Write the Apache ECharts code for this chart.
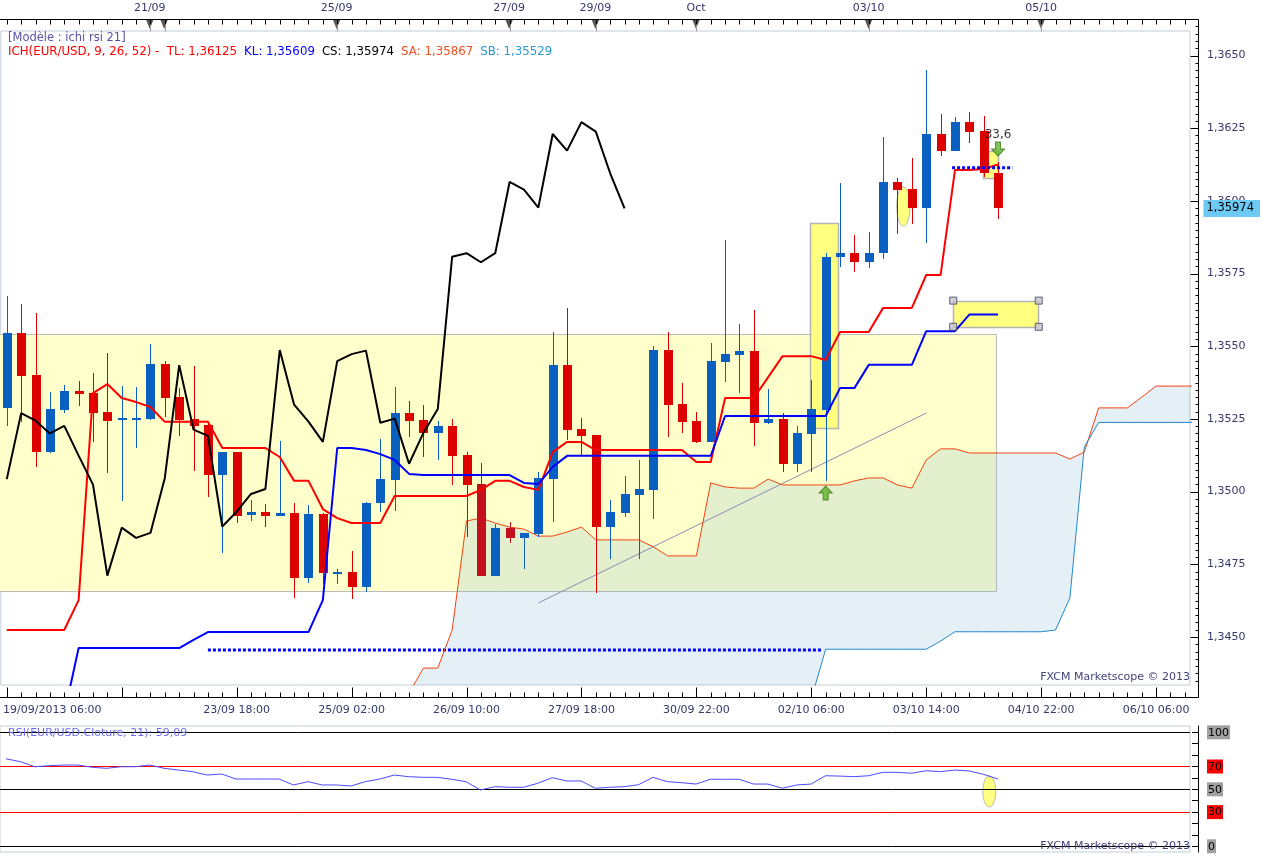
<!DOCTYPE html>
<html><head><meta charset="utf-8">
<script src="https://cdn.jsdelivr.net/npm/echarts@6/dist/echarts.min.js"></script>
<style>html,body{margin:0;padding:0;background:#fff}#c{width:1263px;height:854px}</style>
</head><body><div id="c"></div>
<script>
// ---------- DATA ----------
const opens  = [1.35286,1.35547,1.35401,1.35137,1.35282,1.35346,1.35338,1.35273,1.35245,1.35251,
                1.35251,1.35439,1.35327,1.35249,1.35229,1.35058,1.35136,1.34918,1.34929,1.34917,
                1.34925,1.34702,1.34923,1.34721,1.34723,1.34673,1.34960,1.35040,1.35270,1.35246,
                1.35200,1.35226,1.35126,1.35026,1.34711,1.34876,1.34841,1.34854,1.35044,1.35435,
                1.35215,1.35195,1.34880,1.34928,1.34990,1.35006,1.35487,1.35301,1.35243,1.35172,
                1.35447,1.35471,1.35485,1.35237,1.35251,1.35096,1.35199,1.35282,1.35806,1.35820,
                1.35789,1.35820,1.36065,1.36040,1.35977,1.36230,1.36173,1.36271,1.36240,1.36095];
const closes = [1.35547,1.35399,1.35137,1.35284,1.35346,1.35337,1.35271,1.35244,1.35252,1.35254,
                1.35439,1.35323,1.35246,1.35227,1.35058,1.35136,1.34917,1.34929,1.34917,1.34926,
                1.34702,1.34923,1.34721,1.34725,1.34673,1.34961,1.35043,1.35270,1.35244,1.35200,
                1.35226,1.35124,1.35024,1.34711,1.34876,1.34841,1.34858,1.35047,1.35435,1.35213,
                1.35192,1.34880,1.34931,1.34992,1.35009,1.35487,1.35299,1.35241,1.35171,1.35449,
                1.35473,1.35485,1.35237,1.35251,1.35096,1.35202,1.35284,1.35808,1.35820,1.35789,
                1.35820,1.36065,1.36039,1.35977,1.36230,1.36173,1.36271,1.36238,1.36095,1.35974];
const lows   = [1.35227,1.35241,1.35086,1.35134,1.35271,1.35294,1.35172,1.35065,1.34969,1.35151,
                1.35248,1.35258,1.35191,1.35072,1.34983,1.34788,1.34893,1.34900,1.34879,1.34917,
                1.34635,1.34687,1.34684,1.34684,1.34630,1.34656,1.34931,1.34934,1.35189,1.35120,
                1.35109,1.35024,1.34845,1.34711,1.34711,1.34824,1.34733,1.34845,1.34897,1.35177,
                1.35124,1.34650,1.34767,1.34914,1.34767,1.34907,1.35187,1.35200,1.35168,1.35172,
                1.35378,1.35340,1.35158,1.35232,1.35066,1.35066,1.35066,1.35038,1.35771,1.35754,
                1.35768,1.35799,1.35885,1.35919,1.35856,1.36156,1.36173,1.36198,1.36083,1.35939];
const highs  = [1.35673,1.35645,1.35615,1.35341,1.35367,1.35380,1.35407,1.35476,1.35363,1.35361,
                1.35508,1.35450,1.35355,1.35432,1.35231,1.35137,1.35136,1.34971,1.34957,1.35174,
                1.34960,1.34954,1.34925,1.34734,1.34796,1.34964,1.35181,1.35359,1.35312,1.35298,
                1.35244,1.35250,1.35135,1.35099,1.34887,1.34894,1.34858,1.35069,1.35550,1.35631,
                1.35254,1.35195,1.34971,1.35054,1.35109,1.35502,1.35550,1.35373,1.35274,1.35512,
                1.35865,1.35578,1.35625,1.35353,1.35269,1.35227,1.35385,1.35822,1.36060,1.35883,
                1.35892,1.36219,1.36079,1.36146,1.36450,1.36299,1.36287,1.36306,1.36292,1.36135];
const darkCandles = [33, 35];
const tenkan = [1.34524,1.34524,1.34524,1.34524,1.34524,1.34627,1.35339,1.35370,1.35322,1.35308,
                1.35291,1.35240,1.35240,1.35240,1.35240,1.35150,1.35150,1.35150,1.35150,1.35119,
                1.35037,1.35037,1.34940,1.34909,1.34892,1.34892,1.34892,1.34985,1.34985,1.34985,
                1.34985,1.34985,1.34985,1.35006,1.35037,1.35037,1.35016,1.35006,1.35136,1.35171,
                1.35171,1.35143,1.35143,1.35143,1.35143,1.35143,1.35143,1.35143,1.35102,1.35102,
                1.35322,1.35322,1.35322,1.35394,1.35466,1.35466,1.35466,1.35453,1.35549,1.35549,
                1.35549,1.35632,1.35632,1.35632,1.35745,1.35745,1.36106,1.36106,1.36110,1.36125];
const kijun  = [1.34235,1.34235,1.34235,1.34235,1.34235,1.34462,1.34462,1.34462,1.34462,1.34462,
                1.34462,1.34462,1.34462,1.34490,1.34517,1.34517,1.34517,1.34517,1.34517,1.34517,
                1.34517,1.34517,1.34627,1.35150,1.35150,1.35143,1.35129,1.35109,1.35061,1.35057,
                1.35057,1.35057,1.35057,1.35057,1.35057,1.35057,1.35030,1.35026,1.35085,1.35123,
                1.35123,1.35123,1.35123,1.35123,1.35123,1.35123,1.35123,1.35123,1.35123,1.35123,
                1.35260,1.35260,1.35260,1.35260,1.35260,1.35260,1.35260,1.35260,1.35356,1.35356,
                1.35436,1.35436,1.35436,1.35436,1.35552,1.35552,1.35552,1.35609,1.35609,1.35609];
const chikouShift = 26;
const cloudStart = 28;   // first index of the (forward shifted) cloud values
const senkouA = [1.34307,1.34393,1.34393,1.34524,1.34899,1.34909,1.34892,1.34878,1.34871,1.34847,
                 1.34847,1.34861,1.34878,1.34834,1.34834,1.34834,1.34834,1.34810,1.34779,1.34779,
                 1.34779,1.35030,1.35016,1.35012,1.35012,1.35043,1.35023,1.35023,1.35023,1.35023,
                 1.35023,1.35037,1.35047,1.35047,1.35023,1.35012,1.35109,1.35147,1.35147,1.35133,
                 1.35133,1.35133,1.35133,1.35133,1.35133,1.35133,1.35112,1.35136,1.35288,1.35288,
                 1.35288,1.35325,1.35363,1.35363,1.35363,1.35363];
const senkouB = [1.34215,1.34215,1.34215,1.34215,1.34215,1.34215,1.34215,1.34215,1.34215,1.34215,
                 1.34215,1.34215,1.34215,1.34215,1.34215,1.34215,1.34215,1.34215,1.34215,1.34215,
                 1.34215,1.34215,1.34215,1.34215,1.34215,1.34215,1.34215,1.34215,1.34287,1.34458,
                 1.34458,1.34458,1.34458,1.34458,1.34458,1.34458,1.34458,1.34486,1.34518,1.34518,
                 1.34518,1.34518,1.34518,1.34518,1.34518,1.34524,1.34634,1.35153,1.35238,1.35238,
                 1.35238,1.35238,1.35238,1.35238,1.35238,1.35238];
const rsi = [76.8,74.2,69.8,70.7,71.3,71.3,69.3,68.4,69.8,69.8,
             71.3,68.4,66.9,65.4,62.5,63.4,59.0,59.0,59.0,59.0,
             53.8,56.7,53.8,53.8,52.9,56.7,59.0,62.5,61.1,60.5,
             60.5,58.8,56.7,49.4,52.3,51.8,51.8,55.3,60.2,57.3,
             57.3,50.9,51.8,52.3,54.0,60.5,56.7,55.8,54.6,58.8,
             58.8,58.8,54.6,54.6,50.9,53.8,54.6,61.9,61.6,61.1,
             61.9,64.9,64.9,64.1,66.3,65.5,66.9,66.1,63.1,59.09];
const rsiLevels = [100,70,50,30,0];
const priceTicks = [1.3450,1.3475,1.3500,1.3525,1.3550,1.3575,1.3600,1.3625,1.3650];
const bottomLabelIdx = [0,16,24,32,40,48,56,64,72,80];
const bottomLabels = ['19/09/2013 06:00','23/09 18:00','25/09 02:00','26/09 10:00','27/09 18:00',
                      '30/09 22:00','02/10 06:00','03/10 14:00','04/10 22:00','06/10 06:00'];
const topMarkIdx = [10,11,23,35,41,48,60,72];
const topLabelIdx = [10,23,35,41,48,60,72];
const topLabels = ['21/09','25/09','27/09','29/09','Oct','03/10','05/10'];
const legendValues = {TL:'1,36125', KL:'1,35609', CS:'1,35974', SA:'1,35867', SB:'1,35529'};
// annotations (data coordinates: candle index, price)
const zoneBox   = [-1, 1.35542, 68.87, 1.34658];
const signalBox = [55.92, 1.35923, 57.87, 1.35218];
const klBox     = [65.88, 1.35657, 71.83, 1.35567];
const smallBox  = [67.92, 1.36172, 68.96, 1.36078];
const mainEllipse = [62.41, 1.35981, 0.465, 0.000678];
const rsiEllipse  = [68.4, 48.1, 0.45, 13.6];
const trendLine = [[37, 1.34617], [64, 1.35270]];
const kijunDots1 = [[14, 1.34455], [56.8, 1.34455]];
const kijunDots2 = [[65.8, 1.36114], [70.0, 1.36114]];
const upArrow = [57, 1.34995];
const downArrow = [69, 1.36178];
const downArrowText = '33,6';

// ---------- LAYOUT ----------
const X_MIN = -0.41667, X_MAX = 82.3611;
const Y_MIN = 1.343349, Y_MAX = 1.365843;
const FONT = 'DejaVu Sans';
const AXC = '#34386a';
const BLUE = '#0a60c0', RED = '#dd0000', DARKRED = '#c4101c';
const MAIN_RECT = {left: -2, top: 31, width: 1192, height: 654};
const TOP_RECT = {left: -2, top: 19, width: 1192, height: 12};

const intTicks = []; for (let i = 0; i <= 82; i++) intTicks.push(i);
const minorY = []; for (let k = 0; k <= 90; k++) minorY.push(+(1.3435 + k * 0.00025).toFixed(5));
const rsiTicks = []; for (let v = 0; v <= 100; v += 10) rsiTicks.push(v);

const fmtP = (v, d) => v.toFixed(d).replace('.', ',');
const candleData = opens.map((o, i) => [i, o, closes[i], lows[i], highs[i]]);
const csData = closes.slice(chikouShift).map((c, j) => [j, c]);
const cloudIdx = senkouA.map((_, k) => cloudStart + k);

function renderCandle(params, api) {
  const i = api.value(0), o = api.value(1), c = api.value(2), l = api.value(3), h = api.value(4);
  const pO = api.coord([i, o]), pC = api.coord([i, c]), pL = api.coord([i, l]), pH = api.coord([i, h]);
  const x = Math.round(pO[0]);
  let top = Math.round(Math.min(pO[1], pC[1])), bot = Math.round(Math.max(pO[1], pC[1]));
  if (bot - top < 2) bot = top + 2;
  const col = c >= o ? BLUE : (darkCandles.indexOf(i) >= 0 ? DARKRED : RED);
  return {type: 'group', children: [
    {type: 'line', shape: {x1: x + 0.5, y1: Math.round(pH[1]), x2: x + 0.5, y2: Math.round(pL[1])}, style: {stroke: col, lineWidth: 1}},
    {type: 'rect', shape: {x: x - 4, y: top, width: 9, height: bot - top}, style: {fill: col}}
  ]};
}
function boxRenderer(fill, stroke, lw) {
  return function (params, api) {
    const p1 = api.coord([api.value(0), api.value(1)]), p2 = api.coord([api.value(2), api.value(3)]);
    const x = Math.round(Math.min(p1[0], p2[0])), y = Math.round(Math.min(p1[1], p2[1]));
    return {type: 'rect', shape: {x: x + 0.5, y: y + 0.5, width: Math.round(Math.abs(p2[0] - p1[0])), height: Math.round(Math.abs(p2[1] - p1[1]))},
      style: {fill: fill, stroke: stroke, lineWidth: lw}};
  };
}
function renderEllipse(params, api) {
  const cx = api.value(0), cy = api.value(1), rx = api.value(2), ry = api.value(3);
  const pts = [];
  for (let k = 0; k < 60; k++) { const a = k / 60 * Math.PI * 2; pts.push(api.coord([cx + rx * Math.cos(a), cy + ry * Math.sin(a)])); }
  return {type: 'polygon', shape: {points: pts}, style: {fill: '#ffff80', stroke: '#b8b8b8', lineWidth: 1}};
}
function renderCloud(params, api) {
  if (params.dataIndex !== 0) return null;
  const upper = cloudIdx.map((x, k) => api.coord([x, senkouA[k]]));
  const lower = cloudIdx.map((x, k) => api.coord([x, senkouB[k]])).reverse();
  return {type: 'polygon', shape: {points: upper.concat(lower)}, style: {fill: 'rgba(120,180,210,0.2)'}};
}
const boxCorners = [[klBox[0], klBox[1]], [klBox[2], klBox[1]], [klBox[0], klBox[3]], [klBox[2], klBox[3]]];
const arrowPath = 'path://M6.5,0 L13,7 L9,7 L9,14 L4,14 L4,7 L0,7 Z';

const baseX = {type: 'value', min: X_MIN, max: X_MAX, splitLine: {show: false}, axisLine: {show: false, onZero: false}, axisTick: {show: false}};
const baseYMain = {type: 'value', min: Y_MIN, max: Y_MAX, position: 'right', offset: 8, splitLine: {show: false}, axisLine: {show: false, onZero: false}, axisTick: {show: false}};
const ttl = (extra) => Object.assign({padding: 0}, extra);
const LEG = 11.8;

const option = {
  animation: false,
  backgroundColor: '#ffffff',
  textStyle: {fontFamily: FONT},
  title: [
    ttl({left: 8, top: 31, text: '{p|[Modèle : ichi rsi 21]}\n{r|ICH(EUR/USD, 9, 26, 52) -  TL: ' + legendValues.TL + '}  {b|KL: ' + legendValues.KL + '}  {k|CS: ' + legendValues.CS + '}  {o|SA: ' + legendValues.SA + '}  {c|SB: ' + legendValues.SB + '}',
     textStyle: {fontFamily: FONT, fontSize: 11, fontWeight: 'normal', lineHeight: 14,
       rich: {p: {color: '#5a50a8', fontSize: 11.5, lineHeight: 14}, r: {color: '#ff0000', fontSize: LEG, lineHeight: 14}, b: {color: '#0000ff', fontSize: LEG, lineHeight: 14},
              k: {color: '#000000', fontSize: LEG, lineHeight: 14}, o: {color: '#f05020', fontSize: LEG, lineHeight: 14}, c: {color: '#2a9ad0', fontSize: LEG, lineHeight: 14}}}}),
    ttl({left: 8, top: 728, text: 'RSI(EUR/USD.Cloture, 21): ' + fmtP(rsi[rsi.length - 1], 2), textStyle: {fontFamily: FONT, fontSize: 11, fontWeight: 'normal', color: '#6a6aee'}}),
    ttl({right: 73, top: 672, text: 'FXCM Marketscope © 2013', textStyle: {fontFamily: FONT, fontSize: 11, fontWeight: 'normal', color: '#44447a'}}),
    ttl({right: 73, top: 841, text: 'FXCM Marketscope © 2013', textStyle: {fontFamily: FONT, fontSize: 11, fontWeight: 'normal', color: '#44447a'}})
  ],
  grid: [
    Object.assign({show: true, borderColor: '#c3cdd8', borderWidth: 1, backgroundColor: 'transparent'}, MAIN_RECT),   // 0 main
    {left: -2, top: 726, width: 1192, height: 126, show: true, borderColor: '#c3cdd8', borderWidth: 1, backgroundColor: 'transparent'}, // 1 rsi
    Object.assign({show: false}, TOP_RECT),   // 2 top strip labels / marks
    Object.assign({show: false}, MAIN_RECT)   // 3 current price label
  ],
  xAxis: [
    Object.assign({}, baseX, {gridIndex: 0, position: 'bottom', offset: 12,
      axisLabel: {show: true, customValues: bottomLabelIdx, color: AXC, fontFamily: FONT, fontSize: 11, margin: 8,
        formatter: v => { const k = bottomLabelIdx.indexOf(Math.round(v)); if (k < 0) return ''; return k === 0 ? '{f|' + bottomLabels[0] + '}' : bottomLabels[k]; },
        rich: {f: {padding: [0, 0, 0, 91], color: AXC, fontFamily: FONT, fontSize: 11}}}}),
    Object.assign({}, baseX, {gridIndex: 1, show: false}),
    Object.assign({}, baseX, {gridIndex: 2, position: 'top',
      axisLabel: {show: true, customValues: topLabelIdx, color: AXC, fontFamily: FONT, fontSize: 11, margin: 5,
        formatter: v => { const k = topLabelIdx.indexOf(Math.round(v)); return k < 0 ? '' : topLabels[k]; }}}),
    Object.assign({}, baseX, {gridIndex: 3, show: false})
  ],
  yAxis: [
    Object.assign({}, baseYMain, {gridIndex: 0,
      axisLabel: {show: true, customValues: priceTicks, color: AXC, fontFamily: FONT, fontSize: 11, margin: 9, formatter: v => fmtP(v, 4)}}),
    {type: 'value', gridIndex: 1, min: -5, max: 105.53, position: 'right', offset: 8, splitLine: {show: false},
      axisLine: {show: true, onZero: false, lineStyle: {color: '#000'}},
      axisTick: {show: true, inside: true, length: 6, customValues: rsiTicks, lineStyle: {color: '#000'}},
      axisLabel: {show: true, customValues: rsiLevels, margin: 9, fontFamily: FONT, fontSize: 11,
        formatter: v => { const r = Math.round(v); return (r === 70 || r === 30) ? '{r|' + r + '}' : '{g|' + r + '}'; },
        rich: {g: {backgroundColor: '#a0a0a0', color: '#000', padding: [2, 1, 1, 1], fontFamily: FONT, fontSize: 11},
               r: {backgroundColor: '#ff0000', color: '#000', padding: [2, 1, 1, 1], fontFamily: FONT, fontSize: 11}}}},
    {type: 'value', gridIndex: 2, min: 0, max: 1, show: false, splitLine: {show: false}},
    Object.assign({}, baseYMain, {gridIndex: 3, z: 10,
      axisLabel: {show: true, customValues: [closes[closes.length - 1]], color: '#000', backgroundColor: '#6ccaf5', padding: [3, 6, 2, 3],
        fontFamily: FONT, fontSize: 11.5, margin: 8, formatter: v => fmtP(v, 5)}})
  ],
  series: [
    {type: 'custom', name: 'zone', xAxisIndex: 0, yAxisIndex: 0, z: 1, clip: true, silent: true,
      renderItem: boxRenderer('#ffffcc', '#bcbcbc', 1), encode: {x: [0, 2], y: [1, 3]}, data: [zoneBox]},
    {type: 'custom', name: 'cloud', xAxisIndex: 0, yAxisIndex: 0, z: 2, clip: true, silent: true,
      renderItem: renderCloud, encode: {x: 0, y: 1}, data: [[cloudIdx[0], senkouA[0]]]},
    {type: 'custom', name: 'boxes', xAxisIndex: 0, yAxisIndex: 0, z: 3, silent: true,
      renderItem: boxRenderer('#ffff80', '#b4b4b4', 1.5), encode: {x: [0, 2], y: [1, 3]}, data: [signalBox, klBox, smallBox]},
    {type: 'custom', name: 'ellipse', xAxisIndex: 0, yAxisIndex: 0, z: 3, silent: true,
      renderItem: renderEllipse, encode: {x: 0, y: 1}, data: [mainEllipse]},
    {type: 'line', name: 'trend', xAxisIndex: 0, yAxisIndex: 0, z: 4, symbol: 'none', lineStyle: {color: '#8c8cb4', width: 1}, data: trendLine},
    {type: 'line', name: 'dots1', xAxisIndex: 0, yAxisIndex: 0, z: 4, symbol: 'none', lineStyle: {color: '#0000ff', width: 3, type: [3, 2]}, data: kijunDots1},
    {type: 'line', name: 'SA', xAxisIndex: 0, yAxisIndex: 0, z: 4, symbol: 'none', lineStyle: {color: '#ee4411', width: 1}, data: cloudIdx.map((x, k) => [x, senkouA[k]])},
    {type: 'line', name: 'SB', xAxisIndex: 0, yAxisIndex: 0, z: 4, symbol: 'none', lineStyle: {color: '#2288cc', width: 1}, data: cloudIdx.map((x, k) => [x, senkouB[k]])},
    {type: 'custom', name: 'candles', xAxisIndex: 0, yAxisIndex: 0, z: 5, renderItem: renderCandle, encode: {x: 0, y: [1, 2, 3, 4]}, data: candleData},
    {type: 'line', name: 'TL', xAxisIndex: 0, yAxisIndex: 0, z: 6, symbol: 'none', lineStyle: {color: '#ff0000', width: 2}, data: tenkan.map((v, i) => [i, v])},
    {type: 'line', name: 'KL', xAxisIndex: 0, yAxisIndex: 0, z: 6, symbol: 'none', lineStyle: {color: '#0000ff', width: 2}, data: kijun.map((v, i) => [i, v])},
    {type: 'line', name: 'CS', xAxisIndex: 0, yAxisIndex: 0, z: 6, symbol: 'none', lineStyle: {color: '#000000', width: 2}, data: csData},
    {type: 'line', name: 'dots2', xAxisIndex: 0, yAxisIndex: 0, z: 6, symbol: 'none', lineStyle: {color: '#0000ff', width: 3, type: [3, 2]}, data: kijunDots2},
    {type: 'scatter', name: 'handles', xAxisIndex: 0, yAxisIndex: 0, z: 7, symbol: 'rect', symbolSize: 7,
      itemStyle: {color: '#c4c4cc', borderColor: '#3c3c5c', borderWidth: 1}, data: boxCorners},
    {type: 'scatter', name: 'up', xAxisIndex: 0, yAxisIndex: 0, z: 7, symbol: arrowPath, symbolSize: [13, 14],
      itemStyle: {color: '#62b22c', borderColor: '#3a7a12', borderWidth: 1}, data: [upArrow]},
    {type: 'scatter', name: 'down', xAxisIndex: 0, yAxisIndex: 0, z: 7, symbol: arrowPath, symbolSize: [13, 14], symbolRotate: 180,
      itemStyle: {color: '#62b22c', borderColor: '#3a7a12', borderWidth: 1},
      label: {show: true, position: 'top', distance: 1, formatter: downArrowText, color: '#000', fontFamily: FONT, fontSize: 12}, data: [downArrow]},
    {type: 'custom', name: 'rsiEllipse', xAxisIndex: 1, yAxisIndex: 1, z: 3, silent: true, renderItem: renderEllipse, encode: {x: 0, y: 1}, data: [rsiEllipse]},
    {type: 'line', name: 'RSI', xAxisIndex: 1, yAxisIndex: 1, z: 5, symbol: 'none', lineStyle: {color: '#4b4bff', width: 1}, data: rsi.map((v, i) => [i, v]),
      markLine: {silent: true, symbol: 'none', label: {show: false},
        data: rsiLevels.map(v => ({yAxis: v, lineStyle: {color: (v === 70 || v === 30) ? '#ff0000' : '#000000', width: 1, type: 'solid'}}))}},
    {type: 'scatter', name: 'topMarks', xAxisIndex: 2, yAxisIndex: 2, z: 9, symbol: 'triangle', symbolRotate: 180, symbolSize: [8, 10],
      itemStyle: {color: '#2a2a2a'}, data: topMarkIdx.map(i => [i, 0.58])}
  ]
};
const chart = echarts.init(document.getElementById('c'));
chart.setOption(option);

// axis frame and tick marks, positioned through the chart's own scales
const frameG = [];
const pMinMin = chart.convertToPixel({gridIndex: 0}, [X_MIN, Y_MIN]);
const pMaxMax = chart.convertToPixel({gridIndex: 0}, [X_MAX, Y_MAX]);
const axB = Math.round(pMinMin[1]) + 12 + 0.5;   // bottom axis line
const axT = Math.round(pMaxMax[1]) - 12 + 0.5;   // top axis line
const axR = Math.round(pMaxMax[0]) + 8 + 0.5;    // right axis line
const tk = (x1, y1, x2, y2, col) => ({type: 'line', silent: true, z: 60, shape: {x1: x1, y1: y1, x2: x2, y2: y2}, style: {stroke: col || '#000', lineWidth: 1}});
frameG.push({type: 'polyline', silent: true, z: 60, shape: {points: [[0, axT], [axR, axT], [axR, axB], [0, axB]]}, style: {stroke: '#000', lineWidth: 1, fill: null}});
intTicks.forEach(i => {
  const x = Math.round(chart.convertToPixel({gridIndex: 0}, [i, Y_MIN])[0]) + 0.5;
  const major = i % 8 === 0;
  frameG.push(tk(x, axB, x, axB - (major ? 10 : 5)));
  frameG.push(tk(x, axT, x, axT + 5));
  if (topMarkIdx.indexOf(i) >= 0) frameG.push(tk(x, axT + 5, x, axT + 12, '#9a9a9a'));
});
minorY.forEach(v => {
  const y = Math.round(chart.convertToPixel({gridIndex: 0}, [X_MAX, v])[1]) + 0.5;
  const major = priceTicks.some(t => Math.abs(t - v) < 1e-7);
  frameG.push(tk(axR - (major ? 8 : 3), y, axR, y));
});
chart.setOption({graphic: frameG});
</script>
</body></html>
